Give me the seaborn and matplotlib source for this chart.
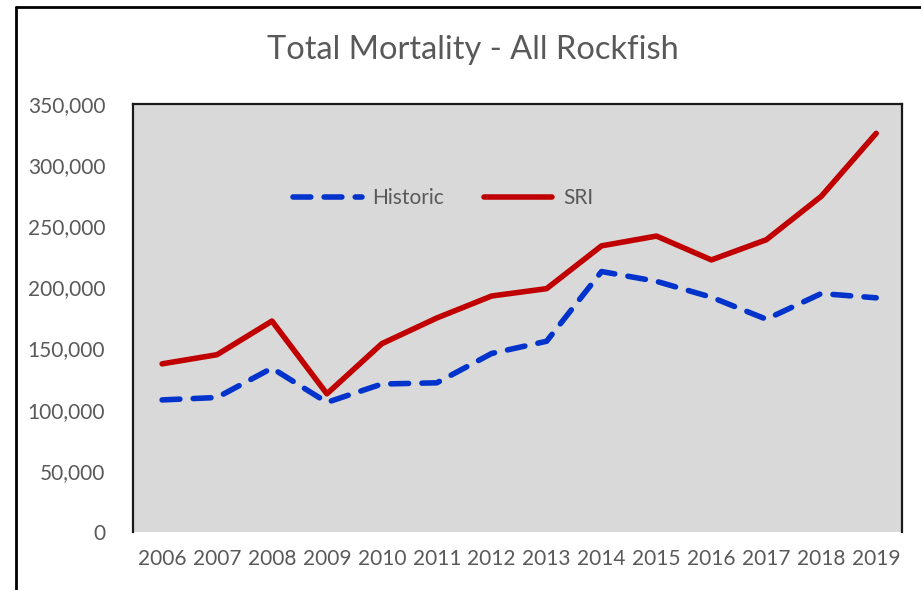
import matplotlib
matplotlib.use("Agg")
import matplotlib.pyplot as plt
import seaborn as sns
import pandas as pd
from matplotlib.ticker import FuncFormatter
from matplotlib.lines import Line2D

years = [2006, 2007, 2008, 2009, 2010, 2011, 2012, 2013, 2014, 2015, 2016, 2017, 2018, 2019]
historic = [108000, 110000, 134000, 106000, 121000, 122000, 146000, 156000, 213000, 205000, 192000, 174000, 195000, 191500]
sri = [137500, 145000, 172500, 113000, 154000, 175000, 193000, 199000, 234000, 242000, 222500, 239000, 274500, 326000]
series_names = ["Historic", "SRI"]
title = "Total Mortality - All Rockfish"

sns.set_theme(style="white")
plt.rcParams['font.family'] = ['Lato', 'DejaVu Sans']

df = pd.DataFrame({"Year": years * 2,
                   "Value": historic + sri,
                   "Series": [series_names[0]] * len(years) + [series_names[1]] * len(years)})

fig = plt.figure(figsize=(9.21, 5.90), dpi=100)
W, H = 921, 590
ax = fig.add_axes([133 / W, 1 - 532 / H, (902 - 133) / W, (532 - 104) / H])
ax.set_facecolor("#d9d9d9")

palette = {"Historic": "#0033cc", "SRI": "#c00000"}
dash = (3.2, 2.4)
sns.lineplot(data=df, x="Year", y="Value", hue="Series", style="Series",
             dashes={"Historic": dash, "SRI": ""}, palette=palette,
             linewidth=4, ax=ax, legend=False)
for ln in ax.get_lines():
    ln.set_dash_capstyle("round")
    ln.set_solid_capstyle("round")

ax.set_xlim(years[0] - 0.53, years[-1] + 0.47)
ax.set_ylim(0, 350000)
ax.set_xticks(years)
ax.set_yticks(range(0, 350001, 50000))
ax.yaxis.set_major_formatter(FuncFormatter(lambda v, p: f"{int(v):,}"))
ax.tick_params(axis="both", labelsize=15, colors="#595959", length=0)
ax.tick_params(axis="y", pad=20)
ax.tick_params(axis="x", pad=12)
ax.set_xlabel("")
ax.set_ylabel("")

for side in ["left", "top", "right"]:
    ax.spines[side].set_visible(True)
    ax.spines[side].set_color("#1a1a1a")
    ax.spines[side].set_linewidth(1.6)
ax.spines["bottom"].set_visible(False)

handles = [Line2D([0], [0], color=palette["Historic"], lw=4, linestyle=(0, dash), dash_capstyle="round"),
           Line2D([0], [0], color=palette["SRI"], lw=4, solid_capstyle="round")]
leg = ax.legend(handles, series_names, loc="center", bbox_to_anchor=((443 - 133) / (902 - 133), (532 - 198) / (532 - 104)),
                ncol=2, frameon=False, fontsize=15, handlelength=3.3, columnspacing=1.9, handletextpad=0.5)
for t in leg.get_texts():
    t.set_color("#595959")

fig.text(473 / W, 1 - 50 / H, title, ha="center", va="center", fontsize=23.5, color="#595959")

# outer frame (left and top edges)
fig.add_artist(Line2D([16 / W, 16 / W], [0, 1 - 7 / H], color="black", lw=2, transform=fig.transFigure))
fig.add_artist(Line2D([16 / W, 1], [1 - 7 / H, 1 - 7 / H], color="black", lw=2, transform=fig.transFigure))

fig.savefig("out.png", dpi=100)
